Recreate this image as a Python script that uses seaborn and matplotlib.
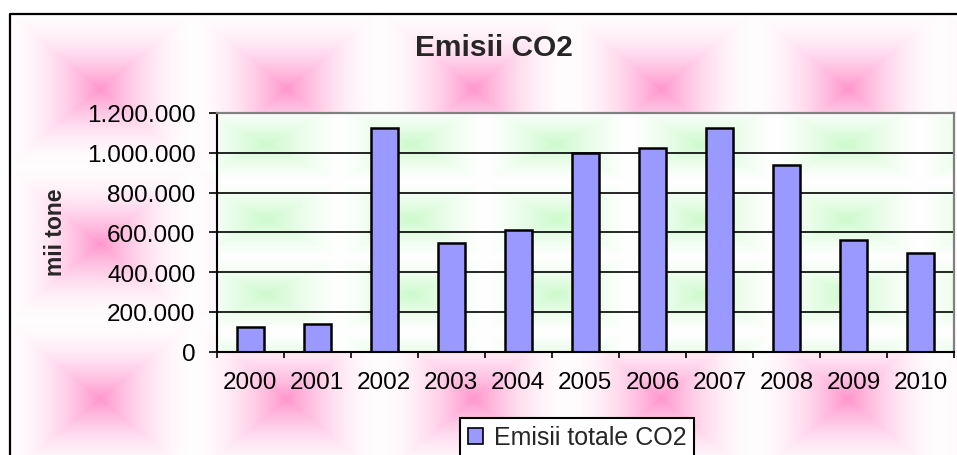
import numpy as np
import matplotlib
matplotlib.use('Agg')
import matplotlib.pyplot as plt
import seaborn as sns
import pandas as pd
from matplotlib.patches import Patch
from matplotlib.ticker import FuncFormatter

# ---------------- data ----------------
years = ['2000', '2001', '2002', '2003', '2004', '2005', '2006', '2007', '2008', '2009', '2010']
emissions = [126000, 141000, 1125000, 548000, 610000, 1001000, 1025000, 1125000, 937000, 563000, 497000]
ytick_values = [0, 200000, 400000, 600000, 800000, 1000000, 1200000]
title_text = 'Emisii CO2'
ylabel_text = 'mii tone'
legend_text = 'Emisii totale CO2'

df = pd.DataFrame({'an': years, 'emisii': emissions})

sns.set_style('white')
plt.rcParams['font.family'] = ['Liberation Sans', 'DejaVu Sans']

W, H = 957, 456
fig = plt.figure(figsize=(W / 100, H / 100), dpi=100)
fig.patch.set_facecolor('white')

# ---------------- chart-area background (pink texture) ----------------
bg = fig.add_axes([0, 0, 1, 1], zorder=-10)
yy, xx = np.mgrid[0:H, 0:W] + 0.5
px, py = 187.0, 155.0
dx = np.mod(xx - 100 + px / 2, px) - px / 2
dy = np.mod(yy - 90 + py / 2, py) - py / 2
f = np.clip(1 - np.maximum(np.abs(dx) / (px / 2), np.abs(dy) / (py / 2)), 0, 1) ** 1.8
pink = np.array([255, 150, 205]) / 255.0
white = np.array([255, 253, 254]) / 255.0
img = white[None, None, :] * (1 - f[..., None]) + pink[None, None, :] * f[..., None]
mask = (xx < 10) | (yy < 15)
img[mask] = 1.0
bg.imshow(img, extent=[0, W, H, 0], aspect='auto', interpolation='bilinear')
bg.set_xlim(0, W)
bg.set_ylim(H, 0)
bg.axis('off')
bg.plot([10, 10, W + 5], [H + 5, 15, 15], color='black', lw=1.6, clip_on=False)

# ---------------- plot area ----------------
L, R, T, B = 216.7, 954.0, 114.0, 352.7
ax = fig.add_axes([L / W, 1 - B / H, (R - L) / W, (B - T) / H])

# green texture in plot area
ph, pw = int(B - T), int(R - L)
gy, gx = np.mgrid[0:ph, 0:pw] + 0.5
gx = gx + L
gy = gy + T
qx, qy = 145.0, 75.0
ddx = np.mod(gx - 266 + qx / 2, qx) - qx / 2
ddy = np.mod(gy - 145 + qy / 2, qy) - qy / 2
g = np.clip(1 - np.maximum(np.abs(ddx) / (qx / 2), np.abs(ddy) / (qy / 2)), 0, 1) ** 1.3
green = np.array([205, 250, 205]) / 255.0
gimg = np.ones((ph, pw, 3)) * (1 - g[..., None]) + green[None, None, :] * g[..., None]
ax.imshow(gimg, extent=[0, 1, 0, 1], transform=ax.transAxes, aspect='auto',
          interpolation='bilinear', zorder=0)

sns.barplot(data=df, x='an', y='emisii', ax=ax, color='#9999FF', saturation=1,
            width=0.4, edgecolor='black', linewidth=1.8, zorder=2)

ax.set_xlim(-0.5, len(years) - 0.5)
ax.set_ylim(ytick_values[0], ytick_values[-1])
ax.hlines(ytick_values[1:-1], -0.5, len(years) - 0.5, color='black', lw=1.2, zorder=1)

ax.set_yticks(ytick_values)
ax.yaxis.set_major_formatter(FuncFormatter(lambda v, p: f"{int(v):,}".replace(',', '.')))
ax.set_xticks(range(len(years)))
ax.set_xticklabels(years)
ax.set_xticks(np.arange(-0.5, len(years), 1), minor=True)

ax.tick_params(axis='y', which='major', left=True, length=5.8, width=1.2, pad=9.4,
               labelsize=17.5, colors='black', direction='out')
ax.tick_params(axis='x', which='major', bottom=True, length=0, pad=14, labelsize=17.5, colors='black')
ax.tick_params(axis='x', which='minor', bottom=True, length=4.3, width=1.2, direction='out', color='black')

for s in ['left', 'bottom']:
    ax.spines[s].set_color('black')
    ax.spines[s].set_linewidth(1.5)
for s in ['top', 'right']:
    ax.spines[s].set_color('#808080')
    ax.spines[s].set_linewidth(1.6)
    ax.spines[s].set_visible(True)

ax.set_xlabel('')
ax.set_ylabel(ylabel_text, fontsize=16.5, fontweight='bold')
ax.yaxis.set_label_coords((56 - L) / (R - L), (B - 232) / (B - T))
ax.yaxis.label.set_va('center')

fig.suptitle(title_text, x=493.5 / W, y=1 - 47.5 / H, va='center', ha='center',
             fontsize=21.5, fontweight='bold')

leg = fig.legend(handles=[Patch(facecolor='#9999FF', edgecolor='black', linewidth=1.2, label=legend_text)],
                 loc='upper left', bbox_to_anchor=(460 / W, 1 - 419 / H), frameon=True, fancybox=False,
                 borderaxespad=0, handlelength=0.6, handleheight=0.6, handletextpad=0.45,
                 borderpad=0.3, fontsize=18)
leg.get_frame().set_edgecolor('black')
leg.get_frame().set_linewidth(1.5)
leg.get_frame().set_facecolor('white')
leg.get_frame().set_alpha(1)

fig.savefig('out.png', dpi=100)
